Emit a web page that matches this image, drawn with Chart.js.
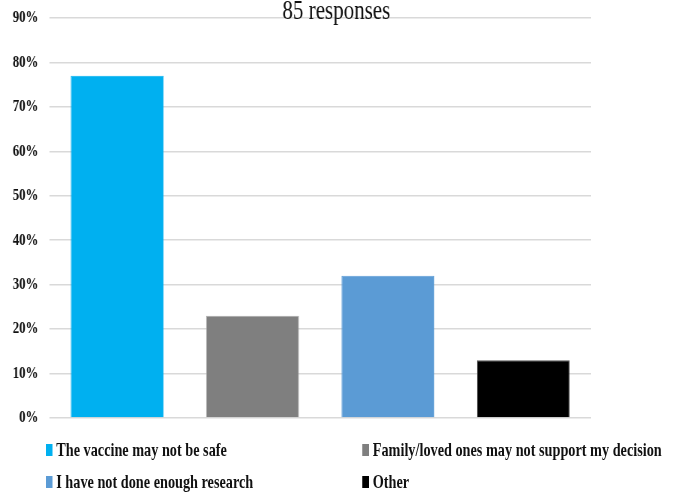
<!DOCTYPE html>
<html>
<head>
<meta charset="utf-8">
<script src="https://cdn.jsdelivr.net/npm/chart.js@4"></script>
<style>
  body { margin: 0; background: #fff; overflow: hidden; }
  /* the reference is horizontally squeezed, so draw wide and squeeze to 683px */
  #wrap { position: relative; width: 911px; height: 492px; transform: scaleX(0.75); transform-origin: 0 0; }
  #legend {
    position: absolute; left: 61px; top: 440px; width: 850px;
    display: grid; grid-template-columns: 422px 420px; row-gap: 12px;
    font-family: "Liberation Serif", serif; font-weight: bold; font-size: 19px; line-height: 20px; color: #111;
  }
  #legend .item { display: flex; align-items: center; white-space: nowrap; }
  #legend .box { width: 9px; height: 12px; margin-right: 5px; }
</style>
</head>
<body>
<div id="wrap">
  <canvas id="reasonsChart" width="911" height="492"></canvas>
  <div id="legend"></div>
</div>
<script>
let titleText = '85 responses';
let reasons = ['The vaccine may not be safe', 'Family/loved ones may not support my decision', 'I have not done enough research', 'Other'];
let percents = [77, 23, 32, 13];
let barColors = ['#00b0f0', '#7f7f7f', '#5b9bd5', '#000000'];
let barBorders = ['#00b0f0', '#a6a6a6', '#5b9bd5', '#595959'];

let ctx = document.getElementById('reasonsChart').getContext('2d');
let reasonsChart = new Chart(ctx, {
    type: 'bar',
    data: {
        labels: reasons,
        datasets: [
            {
                label: titleText,
                backgroundColor: barColors,
                borderColor: barBorders,
                borderWidth: 1,
                data: percents,
                barPercentage: 0.686,
                categoryPercentage: 1
            }
        ]
    },
    options: {
        responsive: false,
        animation: false,
        layout: { padding: { left: 2, right: 16, top: 0, bottom: 66 } },
        plugins: {
            legend: { display: false },
            tooltip: { enabled: false },
            title: {
                display: true,
                text: titleText,
                color: '#111',
                font: { family: 'Liberation Serif', size: 28, weight: 'normal', lineHeight: 0.6 },
                padding: { top: 3, bottom: -2 }
            }
        },
        scales: {
            x: {
                grid: { display: false },
                border: { display: false },
                ticks: { display: false }
            },
            y: {
                min: 0,
                max: 90,
                border: { display: false },
                grid: { color: '#d9d9d9', lineWidth: 1.5, drawTicks: false },
                ticks: {
                    stepSize: 10,
                    padding: 15,
                    color: '#111',
                    // small lineHeight so the tick padding does not push the plot down
                    font: { family: 'Liberation Serif', size: 17, weight: 'bold', lineHeight: 0.35 },
                    callback: v => v + '%'
                }
            },
            // empty right margin kept as an axis so the title centres near the canvas middle
            yRight: {
                position: 'right',
                grid: { display: false },
                border: { display: false },
                ticks: { display: false },
                afterFit: s => { s.width = 107; }
            }
        }
    }
});

let legendEl = document.getElementById('legend');
reasons.forEach((r, i) => {
    let item = document.createElement('div');
    item.className = 'item';
    let box = document.createElement('span');
    box.className = 'box';
    box.style.background = barColors[i];
    item.appendChild(box);
    item.appendChild(document.createTextNode(r));
    legendEl.appendChild(item);
});
</script>
</body>
</html>
